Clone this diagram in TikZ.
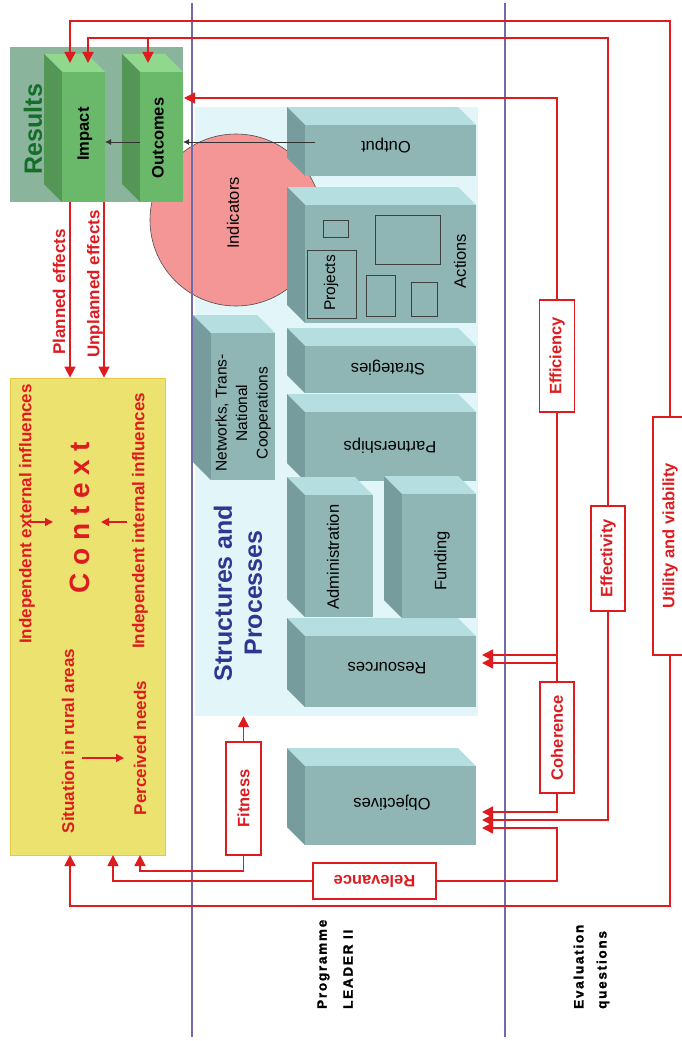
\documentclass[tikz,border=0pt]{standalone}
\usepackage{fontspec}
\usepackage{graphicx}
\setmainfont{Liberation Sans}
\newfontfamily\heavyfont[LetterSpace=13,FakeBold=1.6]{Liberation Sans Bold}
\usetikzlibrary{arrows.meta,fit}
\definecolor{lred}{RGB}{222,28,32}
\definecolor{bluel}{RGB}{112,108,172}
\definecolor{tealfront}{RGB}{143,181,181}
\definecolor{tealtop}{RGB}{180,222,224}
\definecolor{tealside}{RGB}{118,156,158}
\definecolor{greenfront}{RGB}{106,184,106}
\definecolor{greentop}{RGB}{144,216,140}
\definecolor{greenside}{RGB}{84,150,86}
\definecolor{resbg}{RGB}{138,180,156}
\definecolor{ctxfill}{RGB}{236,226,112}
\definecolor{ctxdraw}{RGB}{228,200,70}
\definecolor{panelbg}{RGB}{226,246,250}
\definecolor{pinkc}{RGB}{245,150,150}
\definecolor{dgreen}{RGB}{20,110,40}
\definecolor{sbblue}{RGB}{45,55,145}
\newcommand\cubeblk[6]{%
  \fill[#6top] (#2-18,#3-18) -- (#4-18,#3-18) -- (#4,#3) -- (#2,#3) -- cycle;
  \fill[#6side] (#2-18,#3-18) -- (#2,#3) -- (#2,#5) -- (#2-18,#5-18) -- cycle;
  \node[fill=#6front, inner sep=0, fit={(#2,#3) (#4,#5)}] (#1) {};
}
\tikzset{
  redarr/.style={draw=lred, line width=1.6pt, -{Triangle[length=11pt,width=11pt]}},
  redarrs/.style={draw=lred, line width=1.5pt, -{Triangle[length=8pt,width=8pt]}},
  redln/.style={draw=lred, line width=1.6pt},
  blkarr/.style={draw=black!80, line width=0.6pt, -{Latex[length=6pt,width=6pt]}},
  blueline/.style={draw=bluel, line width=2.2pt},
  qbox/.style={draw=lred, line width=1.5pt, fill=white, inner sep=0, text=lred, font=\fontsize{16.5}{20}\selectfont\bfseries},
  ctext/.style={text=lred, font=\fontsize{17}{20}\selectfont\bfseries, inner sep=0},
  btext/.style={text=black, font=\fontsize{16.5}{20}\selectfont, inner sep=0},
  innerr/.style={draw=black!75, line width=0.8pt, inner sep=0},
}
\begin{document}
\begin{tikzpicture}[x=1pt,y=-1pt]
\useasboundingbox (0,0) rectangle (682,1041);
\fill[white] (0,0) rectangle (682,1041);

% structures panel
\node[fill=panelbg, inner sep=0, fit={(195,107) (478,716)}] (panel) {};
% indicators circle
\node[circle, fill=pinkc, draw=black!70, line width=0.6pt, minimum size=172pt, inner sep=0] (indic) at (236,220) {};
\node[btext, rotate=90] (tIndic) at (233,213) {Indicators};

% blocks
\cubeblk{output}{305}{125}{476}{176}{teal}
\cubeblk{actions}{305}{205}{476}{323}{teal}
\cubeblk{strategies}{305}{346}{476}{393}{teal}
\cubeblk{partner}{305}{412}{476}{481}{teal}
\cubeblk{admin}{305}{495}{373}{617}{teal}
\cubeblk{funding}{402}{494}{476}{618}{teal}
\cubeblk{resources}{305}{636}{476}{707}{teal}
\cubeblk{objectives}{305}{766}{476}{845}{teal}
\cubeblk{networks}{211}{333}{275}{480}{teal}

\node[btext, rotate=180] (tOutput) at (386,146) {Output};
\node[btext, rotate=90] (tActions) at (460,261) {Actions};
\node[innerr, fit={(307,250) (356,318)}] (projbox) {};
\node[btext, rotate=90, font=\fontsize{15.5}{18}\selectfont] (tProj) at (331,283) {Projects};
\node[innerr, fit={(323,220) (348,237)}] (sq1) {};
\node[innerr, fit={(375,215) (440,264)}] (sq2) {};
\node[innerr, fit={(366,275) (395,316)}] (sq3) {};
\node[innerr, fit={(411,282) (437,316)}] (sq4) {};
\node[btext, rotate=180] (tStrat) at (388,368) {Strategies};
\node[btext, rotate=180] (tPart) at (390,446) {Partnerships};
\node[btext, rotate=90] (tAdmin) at (333,557) {Administration};
\node[btext, rotate=90] (tFund) at (442,561) {Funding};
\node[btext, rotate=180] (tRes) at (387,668) {Resources};
\node[btext, rotate=180] (tObj) at (392,803) {Objectives};
\node[btext, rotate=90, align=center, font=\fontsize{15.5}{20.5}\selectfont] (tNet) at (243,413) {Networks, Trans-\\National\\Cooperations};
\node[rotate=90, align=center, text=sbblue, font=\fontsize{25}{30}\selectfont\bfseries, inner sep=0] (tSP) at (238,593) {Structures and\\Processes};

% results
\node[fill=resbg, inner sep=0, fit={(10,47) (183,202)}] (results) {};
\cubeblk{impact}{62}{72}{105}{202}{green}
\cubeblk{outcomes}{140}{72}{183}{202}{green}
\node[rotate=90, text=dgreen, font=\fontsize{25}{30}\selectfont\bfseries, inner sep=0] (tResults) at (33,129) {Results};
\node[rotate=90, font=\fontsize{16.5}{20}\selectfont\bfseries, inner sep=0] (tImpact) at (85,134) {Impact};
\node[rotate=90, font=\fontsize{16.5}{20}\selectfont\bfseries, inner sep=0] (tOutc) at (158,138) {Outcomes};

% context
\node[fill=ctxfill, draw=ctxdraw, line width=0.8pt, inner sep=0, fit={(10,378) (165,855)}] (context) {};
\node[ctext, rotate=90] (tExt) at (27,514) {Independent external influences};
\node[ctext, rotate=90, font=\fontsize{28}{32}\selectfont\bfseries] (tCtx) at (80,518) {C o n t e x t};
\node[ctext, rotate=90] (tInt) at (140,521) {Independent internal influences};
\node[ctext, rotate=90] (tSit) at (68,741) {Situation in rural areas};
\node[ctext, rotate=90] (tPerc) at (140,748) {Perceived needs};
\coordinate (ea1) at (30,522); \coordinate (ea2) at (53,522);
\coordinate (ia1) at (127,522); \coordinate (ia2) at (101,522);
\coordinate (sa1) at (82,758); \coordinate (sa2) at (124,758);
\draw[redarrs] (ea1) -- (ea2);
\draw[redarrs] (ia1) -- (ia2);
\draw[redarrs] (sa1) -- (sa2);

% blue separator lines
\coordinate (bl1a) at (192,3); \coordinate (bl1b) at (192,1037);
\coordinate (bl2a) at (505,3); \coordinate (bl2b) at (505,1037);
\draw[blueline] (bl1a) -- (bl1b);
\draw[blueline] (bl2a) -- (bl2b);

% black arrows
\coordinate (oa) at (315,142);
\draw[blkarr] (oa) -- (outcomes.east |- oa);
\draw[blkarr] (outcomes.west |- oa) -- (impact.east |- oa);

% evaluation question boxes
\node[qbox, minimum width=35pt, minimum height=112pt] (efficiency) at (557,356) {\rotatebox{90}{Efficiency}};
\node[qbox, minimum width=34pt, minimum height=105pt] (effectivity) at (608,558.5) {\rotatebox{90}{Effectivity}};
\node[qbox, minimum width=34pt, minimum height=238pt] (utility) at (670,536) {\rotatebox{90}{Utility and viability}};
\node[qbox, minimum width=34pt, minimum height=111pt] (coherence) at (557,737.5) {\rotatebox{90}{Coherence}};
\node[qbox, minimum width=35pt, minimum height=113pt] (fitness) at (243.5,798.5) {\rotatebox{90}{Fitness}};
\node[qbox, minimum width=123pt, minimum height=36pt] (relevance) at (374.5,881) {\rotatebox{180}{Relevance}};

% connector coordinates
\coordinate (t1) at (70,21);
\coordinate (t2) at (88,38);
\coordinate (impA) at (70,63);
\coordinate (impB) at (88,63);
\coordinate (outT) at (148,63);
\coordinate (outR) at (184,98);
\coordinate (resA) at (482,655);
\coordinate (resB) at (482,663);
\coordinate (objA) at (482,812);
\coordinate (objB) at (482,820);
\coordinate (objC) at (482,828);
\coordinate (relC) at (557,828);
\coordinate (b1) at (70,906);
\coordinate (ctxA) at (70,855);
\coordinate (ctxB) at (113,855);
\coordinate (ctxC) at (140,855);
\coordinate (fitC) at (140,871);
\coordinate (upx) at (104,300);

\draw[redarr] (utility.north) |- (t1) -- (impA);
\draw[redarr] (utility.south) |- (b1) -- (ctxA);
\draw[redarr] (effectivity.north) |- (t2) -- (impB);
\draw[redarr] (outT |- t2) -- (outT);
\draw[redarr] (effectivity.south) |- (objB);
\draw[redarr] (efficiency.north) |- (outR);
\draw[redln] (efficiency.south) -- (coherence.north);
\draw[redarr] (efficiency.south |- resA) -- (resA);
\draw[redarr] (efficiency.south |- resB) -- (resB);
\draw[redarr] (coherence.south) |- (objA);
\draw[redarr] (relevance.east) -| (relC) -- (objC);
\draw[redarr] (relevance.west) -| (ctxB);
\draw[redarr] (fitness.north) -- (fitness.north |- panel.south);
\draw[redarr] (fitness.south) |- (fitC) -- (ctxC);
\draw[redarr] (impact.south -| ctxA) -- (context.north -| ctxA);
\draw[redarr] (impact.south -| upx) -- (context.north -| upx);
\node[ctext, rotate=90] (tPlan) at (59,292) {Planned effects};
\node[ctext, rotate=90] (tUnpl) at (95,284) {Unplanned effects};

% bottom labels
\node[rotate=90, anchor=west, align=left, font=\heavyfont\fontsize{13.5}{26}\selectfont, inner sep=0] (tProg) at (335,1009) {Programme\\LEADER II};
\node[rotate=90, anchor=west, align=left, font=\heavyfont\fontsize{13.5}{23}\selectfont, inner sep=0] (tEval) at (591.5,1009) {Evaluation\\questions};
\end{tikzpicture}
\end{document}
